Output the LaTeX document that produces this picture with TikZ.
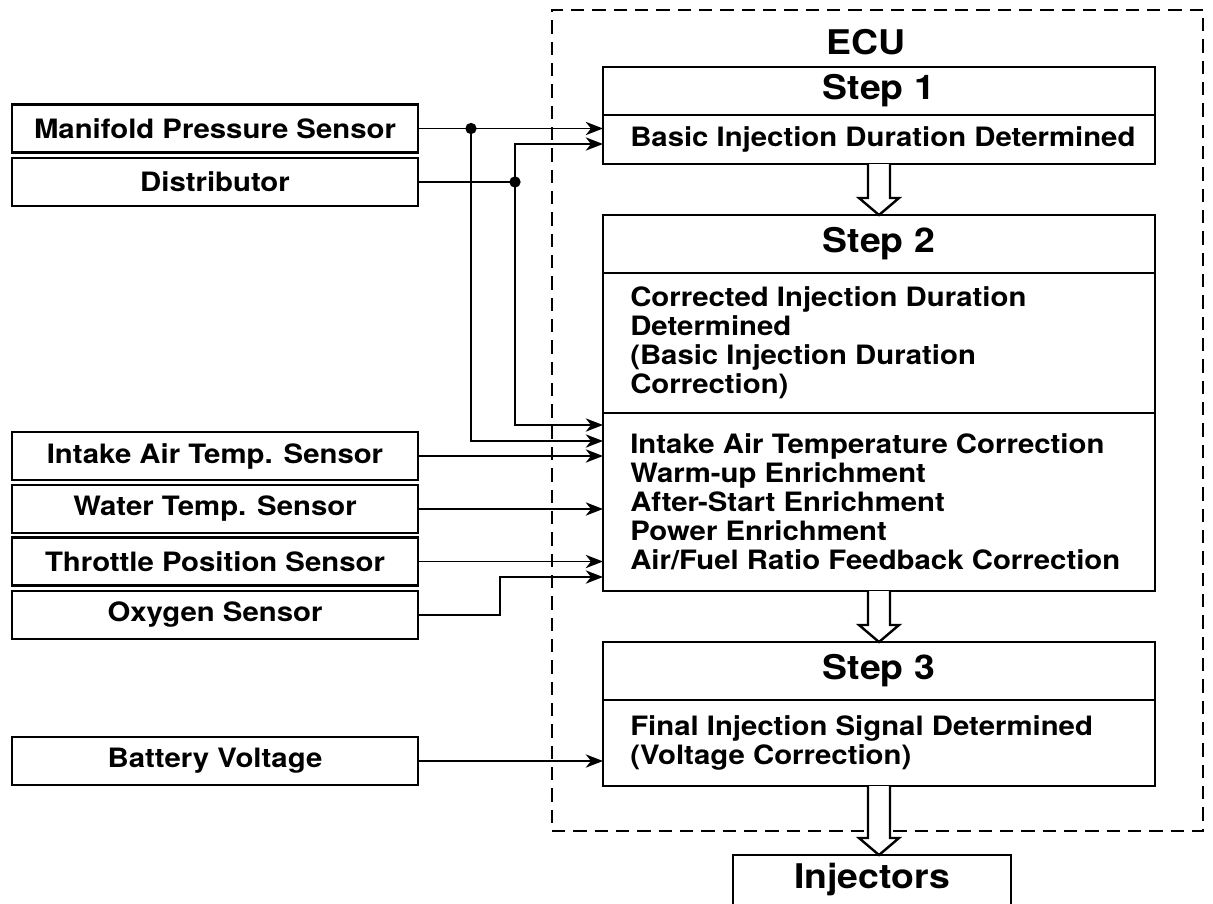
\documentclass[tikz,border=0pt]{standalone}
\usepackage{fontspec}
\setmainfont{TeX Gyre Heros}[FakeStretch=1.1]
\usetikzlibrary{arrows.meta, positioning, calc}

\tikzset{
  sensor/.style={draw, line width=2pt, minimum width=304.5pt, minimum height=36pt, inner sep=0pt, font=\fontsize{20}{21.75}\selectfont\bfseries},
  stephead/.style={draw, line width=1.9pt, minimum width=414pt, inner sep=0pt, outer sep=0pt, font=\fontsize{25.5}{28}\selectfont\bfseries},
  stepbody/.style={draw, line width=1.9pt, minimum width=414pt, inner sep=0pt, outer sep=0pt},
  bodytext/.style={align=left, inner sep=0pt, font=\fontsize{20}{21.75}\selectfont\bfseries},
  signal/.style={-{Stealth[length=13pt, width=10pt, inset=4pt]}, line width=1.2pt},
  hollow/.style={line width=1.8pt, fill=white, line join=miter},
  ecubox/.style={draw, line width=1.1pt, dash pattern=on 10pt off 6pt, inner sep=0pt}
}

\begin{document}
\begin{tikzpicture}[x=0.75pt, y=-0.75pt]
  \useasboundingbox (0,0) rectangle (1213,903);

  % ECU frame
  \node[ecubox, minimum width=488.25pt, minimum height=615.75pt] (ecu) at (877.5, 420.5) {};
  \node[font=\fontsize{25.5}{28}\selectfont\bfseries, inner sep=0pt] (ecutitle) at (866, 42) {ECU};

  % Step 1
  \node[stephead, minimum height=36pt] (s1h) at (879, 91) {Step 1};
  \node[stepbody, minimum height=36.75pt, below=0pt of s1h] (s1b) {};
  \node[bodytext, right=20.25pt of s1b.west] (s1t) {Basic Injection Duration Determined};

  % Step 2
  \node[stephead, minimum height=43.5pt] (s2h) at (879, 244) {Step 2};
  \node[stepbody, minimum height=105pt, below=0pt of s2h] (s2b) {};
  \node[bodytext, right=20.25pt of s2b.west] (s2t) {Corrected Injection Duration\\Determined\\(Basic Injection Duration\\Correction)};
  \node[stepbody, minimum height=133.5pt, below=0pt of s2b] (s2c) {};
  \node[bodytext, right=20.25pt of s2c.west] (s2u) {Intake Air Temperature Correction\\Warm-up Enrichment\\After-Start Enrichment\\Power Enrichment\\Air/Fuel Ratio Feedback Correction};

  % Step 3
  \node[stephead, minimum height=43.5pt] (s3h) at (879, 671) {Step 3};
  \node[stepbody, minimum height=64.5pt, below=0pt of s3h] (s3b) {};
  \node[bodytext, right=20.25pt of s3b.west] (s3t) {Final Injection Signal Determined\\(Voltage Correction)};

  % Output
  \node[stephead, line width=2pt, minimum width=208.5pt, minimum height=37.5pt] (inj) at (872, 880) {Injectors};

  % Sensors
  \node[sensor] (mps) at (215, 128.5) {Manifold Pressure Sensor};
  \node[sensor] (dist) at (215, 182) {Distributor};
  \node[sensor] (iat) at (215, 456) {Intake Air Temp. Sensor};
  \node[sensor] (wts) at (215, 509) {Water Temp. Sensor};
  \node[sensor] (tps) at (215, 561.5) {Throttle Position Sensor};
  \node[sensor] (oxy) at (215, 615) {Oxygen Sensor};
  \node[sensor] (bat) at (215, 761) {Battery Voltage};

  % junctions and bend levels
  \coordinate (jm) at (471, 128.5);
  \coordinate (jd) at (515, 182);
  \coordinate (ko) at (500, 577);
  \coordinate (lv1) at (0, 144);
  \coordinate (lv2) at (0, 425);
  \coordinate (lv3) at (0, 441);

  \draw[signal] (mps.east) -- (s1b.west |- mps.east);
  \draw[signal] (dist.east) -- (jd) |- (s1b.west |- lv1);
  \draw[signal] (jd) |- (s2c.west |- lv2);
  \draw[signal] (jm) |- (s2c.west |- lv3);
  \draw[signal] (iat.east) -- (s2c.west |- iat.east);
  \draw[signal] (wts.east) -- (s2c.west |- wts.east);
  \draw[signal] (tps.east) -- (s2c.west |- tps.east);
  \draw[signal] (oxy.east) -| (ko) -- (s2c.west |- ko);
  \draw[signal] (bat.east) -- (s3b.west |- bat.east);
  \fill (jm) circle (4.25pt);
  \fill (jd) circle (4.25pt);

  % hollow arrows between stages
  \foreach \a/\b in {s1b.south/s2h.north, s2c.south/s3h.north, s3b.south/s3b.south |- inj.north}
    \draw[hollow] ($(\a)+(-11,0)$) -- ($(\b)+(-11,-17)$) -- ($(\b)+(-20,-17)$) -- (\b)
      -- ($(\b)+(20,-17)$) -- ($(\b)+(11,-17)$) -- ($(\a)+(11,0)$);
\end{tikzpicture}
\end{document}
